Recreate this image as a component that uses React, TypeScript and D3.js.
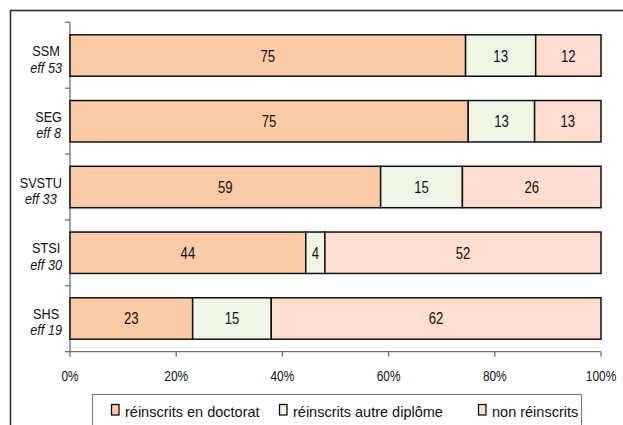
import React, {useRef, useEffect} from 'react';
import * as d3 from 'd3';

// categories (top to bottom) and their headcounts
const disciplines = ['SSM', 'SEG', 'SVSTU', 'STSI', 'SHS'];
const effectifs = [53, 8, 33, 30, 19];

// shares in % per status
const doctorat = [74.5, 75, 58.5, 44.4, 23.1];
const autreDiplome = [13.2, 12.5, 15.4, 3.6, 14.8];
const nonReinscrits = [12.3, 12.5, 26.1, 52, 62.1];

const seriesNames = ['réinscrits en doctorat', 'réinscrits autre diplôme', 'non réinscrits'];
const xTicks = [0, 20, 40, 60, 80, 100];

const colors = ['#FBCBA7', '#F0F6E7', '#FDDDCF'];
const FONT = "'Liberation Sans', Arial, sans-serif";
const SQUEEZE = 0.82; // the original uses a narrow face

export default function App(){

    const svgRef = useRef<SVGSVGElement>(null);

    useEffect(() => {
        const svg = d3.select(svgRef.current);
        svg.selectAll('*').remove();

        const width = 623, height = 425;
        const plot = {left: 70, right: 601, top: 22.3, bottom: 351.7};

        // narrow text helper: horizontally squeezed Liberation Sans
        const narrow = (parent: any, px: number, py: number, size: number, txt: string, italic = false) =>
            parent.append('text')
                .attr('transform', `translate(${px},${py}) scale(${SQUEEZE},1)`)
                .attr('text-anchor', 'middle')
                .attr('font-family', FONT).attr('font-size', size)
                .attr('font-style', italic ? 'italic' : 'normal')
                .attr('fill', '#111')
                .text(txt);

        // outer frame (runs off the right and bottom edge)
        svg.append('rect')
            .attr('x', 10.5).attr('y', 10.5)
            .attr('width', width + 50).attr('height', height + 50)
            .attr('fill', 'white').attr('stroke', '#303030').attr('stroke-width', 1.6);

        const x = d3.scaleLinear().domain([0, 100]).range([plot.left, plot.right]);
        const y = d3.scaleBand<string>()
            .domain(disciplines)
            .range([plot.top, plot.bottom])
            .paddingInner(0.37)
            .paddingOuter(0.19);

        const rows = disciplines.map((d, i) => {
            const vals = [doctorat[i], autreDiplome[i], nonReinscrits[i]];
            let acc = 0;
            return vals.map((v, k) => {
                const seg = {cat: d, k, v, x0: acc, x1: acc + v};
                acc += v;
                return seg;
            });
        });

        // axes
        const axisColor = '#707070';
        const g = svg.append('g');
        g.append('line')
            .attr('x1', plot.left).attr('x2', plot.left)
            .attr('y1', plot.top).attr('y2', plot.bottom)
            .attr('stroke', axisColor).attr('stroke-width', 1.3);
        const bounds = d3.range(disciplines.length + 1).map(i => plot.top + i * (plot.bottom - plot.top) / disciplines.length);
        g.selectAll('line.ytick').data(bounds).join('line')
            .attr('class', 'ytick')
            .attr('x1', plot.left - 5).attr('x2', plot.left)
            .attr('y1', d => d).attr('y2', d => d)
            .attr('stroke', axisColor).attr('stroke-width', 1.3);

        g.append('line')
            .attr('x1', plot.left).attr('x2', plot.right)
            .attr('y1', plot.bottom).attr('y2', plot.bottom)
            .attr('stroke', axisColor).attr('stroke-width', 1.3);
        g.selectAll('line.xtick').data(xTicks).join('line')
            .attr('class', 'xtick')
            .attr('x1', d => x(d)).attr('x2', d => x(d))
            .attr('y1', plot.bottom).attr('y2', plot.bottom + 5)
            .attr('stroke', axisColor).attr('stroke-width', 1.3);
        xTicks.forEach(t => narrow(g, x(t), plot.bottom + 29.5, 14.5, t + '%'));

        // bars
        const bars = svg.append('g');
        rows.forEach(segs => {
            bars.selectAll(null).data(segs).join('rect')
                .attr('x', d => x(d.x0))
                .attr('y', d => y(d.cat)!)
                .attr('width', d => x(d.x1) - x(d.x0))
                .attr('height', y.bandwidth())
                .attr('fill', d => colors[d.k])
                .attr('stroke', '#111').attr('stroke-width', 1.5);
            segs.forEach(d => narrow(bars, (x(d.x0) + x(d.x1)) / 2,
                y(d.cat)! + y.bandwidth() / 2 + 6, 16, String(Math.round(d.v))));
        });

        // category labels: two centered lines, block right-aligned to the axis
        const labels = svg.append('g');
        disciplines.forEach((d, i) => {
            const cy = y(d)! + y.bandwidth() / 2;
            const t1 = narrow(labels, 0, cy + 0.5, 15.5, d);
            const t2 = narrow(labels, 0, cy + 17, 15.5, 'eff ' + effectifs[i], true);
            const w = SQUEEZE * Math.max(
                (t1.node() as SVGTextElement).getComputedTextLength(),
                (t2.node() as SVGTextElement).getComputedTextLength());
            const cx = plot.left - 8 - w / 2;
            t1.attr('transform', `translate(${cx},${cy + 0.5}) scale(${SQUEEZE},1)`);
            t2.attr('transform', `translate(${cx},${cy + 17}) scale(${SQUEEZE},1)`);
        });

        // legend
        const legend = svg.append('g');
        legend.append('rect')
            .attr('x', 92.5).attr('y', 394.5)
            .attr('width', 489).attr('height', 60)
            .attr('fill', 'white').attr('stroke', '#808080').attr('stroke-width', 1.2);
        const itemX = [111, 279, 478];
        seriesNames.forEach((name, k) => {
            legend.append('rect')
                .attr('x', itemX[k] + 0.5).attr('y', 404.5)
                .attr('width', 7.5).attr('height', 10.5)
                .attr('fill', colors[k]).attr('stroke', '#111').attr('stroke-width', 1.3);
            legend.append('text')
                .attr('x', itemX[k] + 14).attr('y', 416.5)
                .attr('font-family', FONT).attr('font-size', 14.5)
                .attr('fill', '#111')
                .text(name);
        });
    });

    return(
        <svg ref={svgRef} width={623} height={425}
            style={{position: 'absolute', left: 0, top: 0, background: 'white'}}/>
    );
}
